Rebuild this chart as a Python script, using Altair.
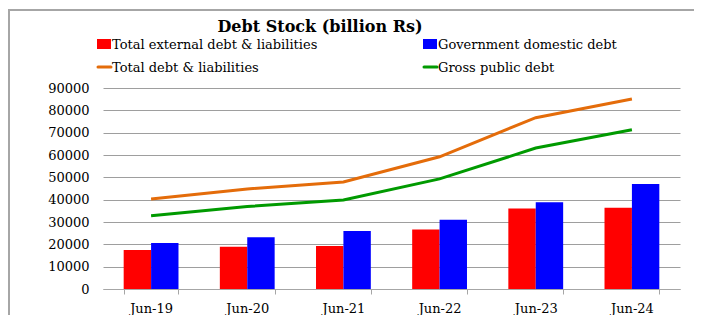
import altair as alt
import pandas as pd

categories = ["Jun-19", "Jun-20", "Jun-21", "Jun-22", "Jun-23", "Jun-24"]
external = [17500, 18900, 19300, 26600, 36100, 36400]
domestic = [20600, 23200, 26000, 31000, 38800, 47000]
total = [40300, 44800, 47900, 59200, 76700, 85100]
gross = [32800, 36900, 39900, 49300, 63100, 71300]

bar_series = ["Total external debt & liabilities", "Government domestic debt"]
line_series = ["Total debt & liabilities", "Gross public debt"]
bar_colors = ["#FF0000", "#0000FF"]
line_colors = ["#E46C0A", "#009A00"]
y_ticks = list(range(0, 90001, 10000))
title_text = "Debt  Stock (billion Rs)"

FONT = "DejaVu Serif"
W, H = 577, 201

bars_df = pd.DataFrame(
    [{"cat": c, "series": bar_series[0], "value": v} for c, v in zip(categories, external)]
    + [{"cat": c, "series": bar_series[1], "value": v} for c, v in zip(categories, domestic)]
)
lines_df = pd.DataFrame(
    [{"cat": c, "series": line_series[0], "value": v} for c, v in zip(categories, total)]
    + [{"cat": c, "series": line_series[1], "value": v} for c, v in zip(categories, gross)]
)

xscale = alt.Scale(domain=categories, paddingInner=0.43, paddingOuter=0.215)
yscale = alt.Scale(domain=[0, 90000], nice=False)

x_axis = alt.Axis(
    title=None, labelAngle=0, labelFont=FONT, labelFontSize=13, labelColor="#000",
    tickBand="extent", tickColor="#A6A6A6", tickSize=5, domainColor="#A6A6A6",
    labelPadding=8, grid=False,
)
y_axis = alt.Axis(
    title=None, values=y_ticks, labelFont=FONT, labelFontSize=13, labelColor="#000",
    domain=False, ticks=False, labelPadding=14, grid=True, gridColor="#9E9E9E",
    labelFlush=False, labelOverlap=False, format="d",
)

bars = alt.Chart(bars_df).mark_bar().encode(
    x=alt.X("cat:N", scale=xscale, axis=x_axis, sort=categories),
    xOffset=alt.XOffset("series:N", sort=bar_series, scale=alt.Scale(domain=bar_series)),
    y=alt.Y("value:Q", scale=yscale, axis=y_axis),
    color=alt.Color("series:N", scale=alt.Scale(domain=bar_series, range=bar_colors), legend=None),
)

lines = alt.Chart(lines_df).mark_line(strokeWidth=3).encode(
    x=alt.X("cat:N", scale=xscale, sort=categories, axis=x_axis),
    y=alt.Y("value:Q", scale=yscale, axis=y_axis),
    stroke=alt.Stroke("series:N", scale=alt.Scale(domain=line_series, range=line_colors), legend=None),
    detail="series:N",
)

# manual legend (2 x 2 grid)
leg_rows = [
    {"label": bar_series[0], "color": bar_colors[0], "kind": "rect", "col": 0, "row": 0},
    {"label": bar_series[1], "color": bar_colors[1], "kind": "rect", "col": 1, "row": 0},
    {"label": line_series[0], "color": line_colors[0], "kind": "line", "col": 0, "row": 1},
    {"label": line_series[1], "color": line_colors[1], "kind": "line", "col": 1, "row": 1},
]
col_x = [-6, 320]
row_y = [-44, -21]

layers = [bars, lines]
for item in leg_rows:
    x0 = col_x[item["col"]]
    y0 = row_y[item["row"]]
    d = pd.DataFrame([item])
    if item["kind"] == "rect":
        sym = alt.Chart(d).mark_rect(color=item["color"]).encode(
            x=alt.value(x0), x2=alt.value(x0 + 14), y=alt.value(y0 - 5), y2=alt.value(y0 + 5)
        )
    else:
        sym = alt.Chart(d).mark_rule(color=item["color"], strokeWidth=3, strokeCap="round").encode(
            x=alt.value(x0 + 1), x2=alt.value(x0 + 14), y=alt.value(y0), y2=alt.value(y0)
        )
    txt = alt.Chart(d).mark_text(
        align="left", baseline="middle", font=FONT, fontSize=13, color="#000"
    ).encode(text="label:N", x=alt.value(x0 + 15), y=alt.value(y0 + 1))
    layers += [sym, txt]

title = alt.Chart(pd.DataFrame([{"t": title_text}])).mark_text(
    align="center", baseline="middle", font=FONT, fontSize=16, fontWeight="bold", color="#000"
).encode(text="t:N", x=alt.value(217), y=alt.value(-61))

frame = alt.Chart(pd.DataFrame([{"a": 1}])).mark_rect(
    fill=None, stroke="#A6A6A6", strokeWidth=2
).encode(x=alt.value(-94), x2=alt.value(700), y=alt.value(-78), y2=alt.value(300))

chart = alt.layer(frame, *layers, title).properties(
    width=W, height=H,
    autosize=alt.AutoSizeParams(type="none"),
    padding={"left": 95, "top": 80, "right": 14, "bottom": 26},
).configure_view(stroke=None)

chart.save("out.html", embed_options={"renderer": "svg", "actions": False})
